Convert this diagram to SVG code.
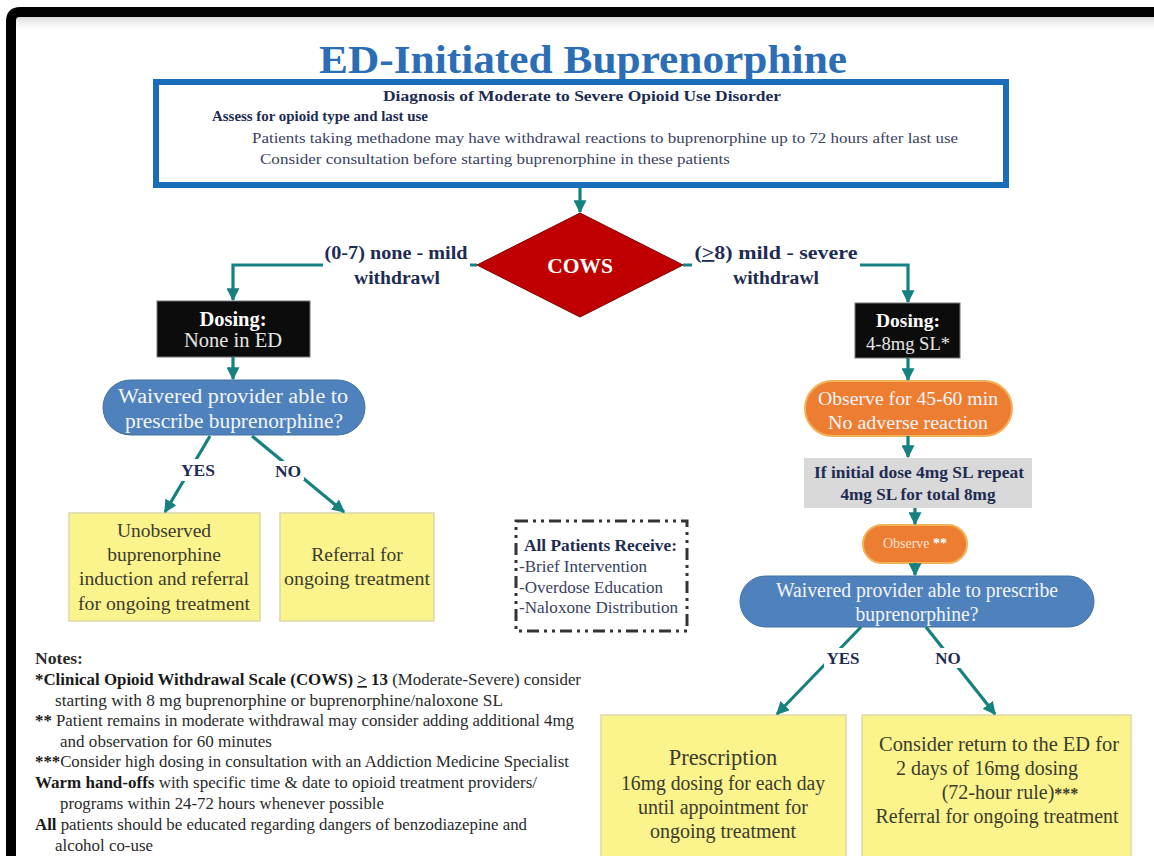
<svg xmlns="http://www.w3.org/2000/svg" width="1154" height="856" viewBox="0 0 1154 856">
<defs>
<marker id="ah" viewBox="0 0 10 10" refX="9" refY="5" markerWidth="13" markerHeight="13" markerUnits="userSpaceOnUse" orient="auto">
<path d="M0,0 L10,5 L0,10 z" fill="#17817f"/>
</marker>
<linearGradient id="shade" x1="0" y1="0" x2="0" y2="1">
<stop offset="0" stop-color="#d8d8d8"/>
<stop offset="1" stop-color="#ffffff" stop-opacity="0"/>
</linearGradient>
</defs>
<style>
text{font-family:"Liberation Serif","Times New Roman",serif}
.conn{fill:none;stroke:#17817f;stroke-width:3.2}
.lbl{font-weight:bold;fill:#1e2b52}
.navy{fill:#1e2b52}
.pill-blue{fill:#4f81bd;stroke:#41709f;stroke-width:1}
.pill-or{fill:#ed7d31;stroke:#f2b25a;stroke-width:2}
.wtxt{fill:#f2f5fa}
.ytxt{fill:#3b3b2e}
.ybox{fill:#fbf38c;stroke:#dcd9a6;stroke-width:1.5}
.dose{fill:#0c0c0c;stroke:#777;stroke-width:1}
.note{fill:#2a2a2a}
</style>
<rect x="0" y="0" width="1154" height="856" fill="#ffffff"/>
<rect x="15" y="17" width="1139" height="16" fill="url(#shade)"/>
<path d="M11,856 V21 Q11,12 20,12 H1154" fill="none" stroke="#000" stroke-width="10"/>

<g id="title">
<text x="583" y="73" text-anchor="middle" font-size="40" font-weight="bold" fill="#2b6eb5" textLength="528" lengthAdjust="spacingAndGlyphs">ED-Initiated Buprenorphine</text>
</g>

<g id="diagnosis">
<rect x="156" y="82" width="850" height="103" fill="#fff" stroke="#1a6dbb" stroke-width="6"/>
<text x="582" y="101" text-anchor="middle" font-size="15" font-weight="bold" class="navy" textLength="398" lengthAdjust="spacingAndGlyphs">Diagnosis of Moderate to Severe Opioid Use Disorder</text>
<text x="212" y="121" font-size="15" font-weight="bold" class="navy" textLength="216" lengthAdjust="spacingAndGlyphs">Assess for opioid type and last use</text>
<text x="252" y="143" font-size="15.5" fill="#3a4160" textLength="706" lengthAdjust="spacingAndGlyphs">Patients taking methadone may have withdrawal reactions to buprenorphine up to 72 hours after last use</text>
<text x="260" y="164" font-size="15.5" fill="#3a4160" textLength="470" lengthAdjust="spacingAndGlyphs">Consider consultation before starting buprenorphine in these patients</text>
</g>

<g id="cows">
<polygon points="580,213 683,265 580,317 477,265" fill="#c00000" stroke="#7a0000" stroke-width="1"/>
<text x="580" y="273" text-anchor="middle" font-size="21.5" font-weight="bold" fill="#fff">COWS</text>
</g>

<g id="dosing-none">
<rect x="157" y="301" width="153" height="56" class="dose"/>
<text x="233" y="326" text-anchor="middle" font-size="20.5" font-weight="bold" fill="#fff">Dosing:</text>
<text x="233" y="347" text-anchor="middle" font-size="20.5" fill="#e6e6e6">None in ED</text>
</g>

<g id="dosing-sl">
<rect x="855" y="303" width="105" height="55" class="dose"/>
<text x="908" y="327" text-anchor="middle" font-size="19.5" font-weight="bold" fill="#fff">Dosing:</text>
<text x="908" y="350" text-anchor="middle" font-size="18" fill="#e6e6e6" textLength="84" lengthAdjust="spacingAndGlyphs">4-8mg SL*</text>
</g>

<g id="waiver-left">
<rect x="103" y="380" width="262" height="55" rx="27.5" class="pill-blue"/>
<text x="233" y="403" text-anchor="middle" font-size="20" class="wtxt" textLength="230" lengthAdjust="spacingAndGlyphs">Waivered provider able to</text>
<text x="234" y="428" text-anchor="middle" font-size="20" class="wtxt" textLength="218" lengthAdjust="spacingAndGlyphs">prescribe buprenorphine?</text>
</g>

<g id="unobserved">
<rect x="69" y="513" width="191" height="108" class="ybox"/>
<text x="164" y="537" text-anchor="middle" font-size="19.5" class="ytxt">Unobserved</text>
<text x="164" y="561" text-anchor="middle" font-size="19.5" class="ytxt">buprenorphine</text>
<text x="164" y="585" text-anchor="middle" font-size="19.5" class="ytxt" textLength="170" lengthAdjust="spacingAndGlyphs">induction and referral</text>
<text x="164" y="610" text-anchor="middle" font-size="19.5" class="ytxt" textLength="172" lengthAdjust="spacingAndGlyphs">for ongoing treatment</text>
</g>

<g id="referral-left">
<rect x="280" y="513" width="154" height="108" class="ybox"/>
<text x="357" y="561" text-anchor="middle" font-size="19.5" class="ytxt">Referral for</text>
<text x="357" y="585" text-anchor="middle" font-size="19.5" class="ytxt" textLength="146" lengthAdjust="spacingAndGlyphs">ongoing treatment</text>
</g>

<g id="all-patients">
<rect x="516" y="521" width="171" height="110" fill="#fff" stroke="#333" stroke-width="3" stroke-dasharray="12 5 3 5 3 5"/>
<text x="524" y="551" font-size="17" font-weight="bold" class="navy" textLength="153" lengthAdjust="spacingAndGlyphs">All Patients Receive:</text>
<text x="519" y="572" font-size="17" fill="#3a4160" textLength="128" lengthAdjust="spacingAndGlyphs">-Brief Intervention</text>
<text x="519" y="593" font-size="17" fill="#3a4160" textLength="144" lengthAdjust="spacingAndGlyphs">-Overdose Education</text>
<text x="519" y="613" font-size="17" fill="#3a4160" textLength="159" lengthAdjust="spacingAndGlyphs">-Naloxone Distribution</text>
</g>

<g id="observe-45">
<rect x="805" y="381" width="207" height="55" rx="27.5" class="pill-or"/>
<text x="908" y="405" text-anchor="middle" font-size="19.5" class="wtxt" textLength="180" lengthAdjust="spacingAndGlyphs">Observe for 45-60 min</text>
<text x="908" y="429" text-anchor="middle" font-size="19.5" class="wtxt" textLength="160" lengthAdjust="spacingAndGlyphs">No adverse reaction</text>
</g>

<g id="repeat">
<rect x="804" y="458" width="228" height="50" fill="#d9d9d9"/>
<text x="919" y="478" text-anchor="middle" font-size="17.5" font-weight="bold" class="navy" textLength="210" lengthAdjust="spacingAndGlyphs">If initial dose 4mg SL repeat</text>
<text x="918" y="500" text-anchor="middle" font-size="17.5" font-weight="bold" class="navy" textLength="155" lengthAdjust="spacingAndGlyphs">4mg SL for total 8mg</text>
</g>

<g id="observe-star">
<rect x="863" y="525" width="104" height="38" rx="19" class="pill-or"/>
<text x="915" y="548" text-anchor="middle" font-size="14" fill="#fbe3d0">Observe <tspan font-weight="bold" fill="#fff">**</tspan></text>
</g>

<g id="waiver-right">
<rect x="740" y="576" width="354" height="51" rx="25.5" class="pill-blue"/>
<text x="917" y="597" text-anchor="middle" font-size="20" class="wtxt" textLength="282" lengthAdjust="spacingAndGlyphs">Waivered provider able to prescribe</text>
<text x="917" y="621" text-anchor="middle" font-size="20" class="wtxt" textLength="123" lengthAdjust="spacingAndGlyphs">buprenorphine?</text>
</g>

<g id="prescription">
<rect x="601" y="715" width="245" height="150" class="ybox"/>
<text x="723" y="765" text-anchor="middle" font-size="22.5" class="ytxt">Prescription</text>
<text x="723" y="790" text-anchor="middle" font-size="20" class="ytxt" textLength="204" lengthAdjust="spacingAndGlyphs">16mg dosing for each day</text>
<text x="723" y="814" text-anchor="middle" font-size="20" class="ytxt">until appointment for</text>
<text x="723" y="838" text-anchor="middle" font-size="20" class="ytxt">ongoing treatment</text>
</g>

<g id="return-ed">
<rect x="862" y="715" width="269" height="150" class="ybox"/>
<text x="999" y="751" text-anchor="middle" font-size="20" class="ytxt" textLength="240" lengthAdjust="spacingAndGlyphs">Consider return to the ED for</text>
<text x="987" y="775" text-anchor="middle" font-size="20" class="ytxt">2 days of 16mg dosing</text>
<text x="1010" y="799" text-anchor="middle" font-size="20" class="ytxt">(72-hour rule)<tspan font-weight="bold" font-size="16">***</tspan></text>
<text x="997" y="823" text-anchor="middle" font-size="20" class="ytxt" textLength="243" lengthAdjust="spacingAndGlyphs">Referral for ongoing treatment</text>
</g>

<g id="connectors">
<path class="conn" d="M580,188 V212" marker-end="url(#ah)"/>
<path class="conn" d="M477,265 H233 V300" marker-end="url(#ah)"/>
<rect x="323" y="243" width="147" height="48" fill="#fff"/>
<text x="396" y="259" text-anchor="middle" font-size="18.5" class="lbl" textLength="143" lengthAdjust="spacingAndGlyphs">(0-7) none - mild</text>
<text x="397" y="284" text-anchor="middle" font-size="18.5" class="lbl" textLength="86" lengthAdjust="spacingAndGlyphs">withdrawl</text>
<path class="conn" d="M683,265 H908 V302" marker-end="url(#ah)"/>
<rect x="692" y="243" width="168" height="48" fill="#fff"/>
<text x="776" y="259" text-anchor="middle" font-size="18.5" class="lbl" textLength="163" lengthAdjust="spacingAndGlyphs">(<tspan text-decoration="underline">&gt;</tspan>8) mild - severe</text>
<text x="776" y="284" text-anchor="middle" font-size="18.5" class="lbl" textLength="86" lengthAdjust="spacingAndGlyphs">withdrawl</text>
<path class="conn" d="M233,357 V379" marker-end="url(#ah)"/>
<path class="conn" d="M210,436 L165,512" marker-end="url(#ah)"/>
<rect x="178" y="459" width="40" height="22" fill="#fff"/>
<text x="198" y="476" text-anchor="middle" class="lbl" font-size="17.5">YES</text>
<path class="conn" d="M252,436 L344,512" marker-end="url(#ah)"/>
<rect x="271" y="461" width="33" height="19" fill="#fff"/>
<text x="288" y="477" text-anchor="middle" class="lbl" font-size="17.5">NO</text>
<path class="conn" d="M908,358 V380" marker-end="url(#ah)"/>
<path class="conn" d="M908,436 V457" marker-end="url(#ah)"/>
<path class="conn" d="M915,508 V524" marker-end="url(#ah)"/>
<path class="conn" d="M915,563 V575" marker-end="url(#ah)"/>
<path class="conn" d="M861,627 L777,714" marker-end="url(#ah)"/>
<rect x="824" y="648" width="40" height="20" fill="#fff"/>
<text x="843" y="664" text-anchor="middle" class="lbl" font-size="17">YES</text>
<path class="conn" d="M926,627 L995,714" marker-end="url(#ah)"/>
<rect x="931" y="648" width="34" height="20" fill="#fff"/>
<text x="948" y="664" text-anchor="middle" class="lbl" font-size="17">NO</text>
</g>

<g id="notes">
<text x="35" y="664" font-size="16.5" class="note" font-weight="bold" fill="#1a1a1a" textLength="48" lengthAdjust="spacingAndGlyphs">Notes:</text>
<text x="35" y="685" font-size="16.5" class="note" textLength="546" lengthAdjust="spacingAndGlyphs"><tspan font-weight="bold" fill="#1a1a1a">*Clinical Opioid Withdrawal Scale (COWS) <tspan text-decoration="underline">&gt;</tspan> 13</tspan> (Moderate-Severe) consider</text>
<text x="55" y="706" font-size="16.5" class="note" textLength="448" lengthAdjust="spacingAndGlyphs">starting with 8 mg buprenorphine or buprenorphine/naloxone SL</text>
<text x="35" y="726" font-size="16.5" class="note" textLength="539" lengthAdjust="spacingAndGlyphs"><tspan font-weight="bold" fill="#1a1a1a">**</tspan> Patient remains in moderate withdrawal may consider adding additional 4mg</text>
<text x="60" y="747" font-size="16.5" class="note" textLength="212" lengthAdjust="spacingAndGlyphs">and observation for 60 minutes</text>
<text x="35" y="767" font-size="16.5" class="note" textLength="534" lengthAdjust="spacingAndGlyphs"><tspan font-weight="bold" fill="#1a1a1a">***</tspan>Consider high dosing in consultation with an Addiction Medicine Specialist</text>
<text x="35" y="788" font-size="16.5" class="note" textLength="502" lengthAdjust="spacingAndGlyphs"><tspan font-weight="bold" fill="#1a1a1a">Warm hand-offs</tspan> with specific time &amp; date to opioid treatment providers/</text>
<text x="60" y="809" font-size="16.5" class="note" textLength="324" lengthAdjust="spacingAndGlyphs">programs within 24-72 hours whenever possible</text>
<text x="35" y="830" font-size="16.5" class="note" textLength="492" lengthAdjust="spacingAndGlyphs"><tspan font-weight="bold" fill="#1a1a1a">All</tspan> patients should be educated regarding dangers of benzodiazepine and</text>
<text x="55" y="851" font-size="16.5" class="note" textLength="98" lengthAdjust="spacingAndGlyphs">alcohol co-use</text>
</g>
</svg>
